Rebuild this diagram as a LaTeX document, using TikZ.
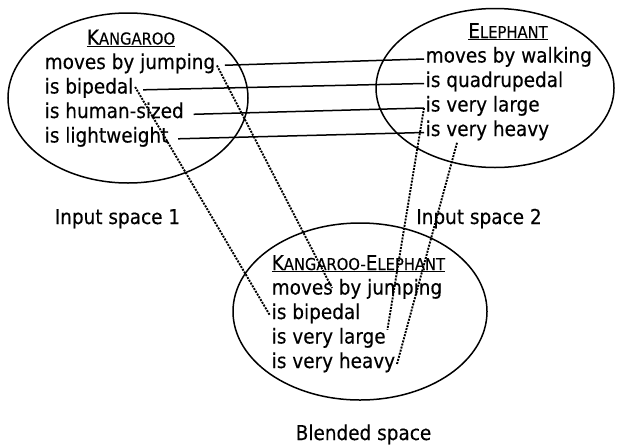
\documentclass[tikz,border=0pt]{standalone}
\usepackage{fontspec}
\setmainfont{DejaVu Sans Condensed}[FakeBold=0.3]
\usepackage{tikz}
\newcommand{\fakesc}[2]{#1{\fontsize{16.4pt}{16.4pt}\selectfont #2}}

\begin{document}
\begin{tikzpicture}[x=1pt,y=-1pt,line width=1.5pt,
        item/.style={anchor=base west,inner sep=1pt,text height=12pt,text depth=5pt,font=\fontsize{20.5pt}{24.5pt}\selectfont},
        link/.style={shorten <=8pt},
        trace/.style={line width=1.9pt,dash pattern=on 2pt off 1.2pt}]
        \useasboundingbox (0,0) rectangle (617,447);
        \draw (128,98) ellipse [x radius=120pt,y radius=85pt];
        \draw (495,88) ellipse [x radius=119pt,y radius=79.5pt];
        \draw (360,311.5) ellipse [x radius=127pt,y radius=88.5pt];

        \node[item,anchor=base] (ktitle) at (131,44.5) {\underline{\fakesc{K}{ANGAROO}}};
        \foreach \i/\itext in {1/moves by jumping,2/is bipedal,3/is human-sized,4/is lightweight}
        {
            \node[item] (k\i) at (43,44.5+24.5*\i) {\itext};
        }
        \node[item,anchor=base] (etitle) at (508,38) {\underline{\fakesc{E}{LEPHANT}}};
        \foreach \i/\itext in {1/moves by walking,2/is quadrupedal,3/is very large,4/is very heavy}
        {
            \node[item] (e\i) at (424,38+24.5*\i) {\itext};
        }
        \node[item] (btitle) at (270,270) {\underline{\fakesc{K}{ANGAROO-}\fakesc{E}{LEPHANT}}};
        \foreach \i/\itext in {1/moves by jumping,2/is bipedal,3/is very large,4/is very heavy}
        {
            \node[item] (b\i) at (270,270+24.5*\i) {\itext};
        }

        \node[item,anchor=base] (input1) at (117.5,224) {Input space 1};
        \node[item,anchor=base] (input2) at (479,224) {Input space 2};
        \node[item,anchor=base] (blended) at (363.5,440) {Blended space};

        \foreach \i in {1,...,4}
            \draw[link] (k\i.east) -- (e\i.west);

        \draw[trace] (k1.east) -- ([xshift=62pt,yshift=3pt]b1.west);
        \draw[trace] ([yshift=3pt]k2.east) -- (b2.west);
        \draw[trace] (e3.west) -- (b3.north east);
        \draw[trace] ([xshift=33pt]e4.south west) -- (b4.east);
    \end{tikzpicture}
\end{document}
